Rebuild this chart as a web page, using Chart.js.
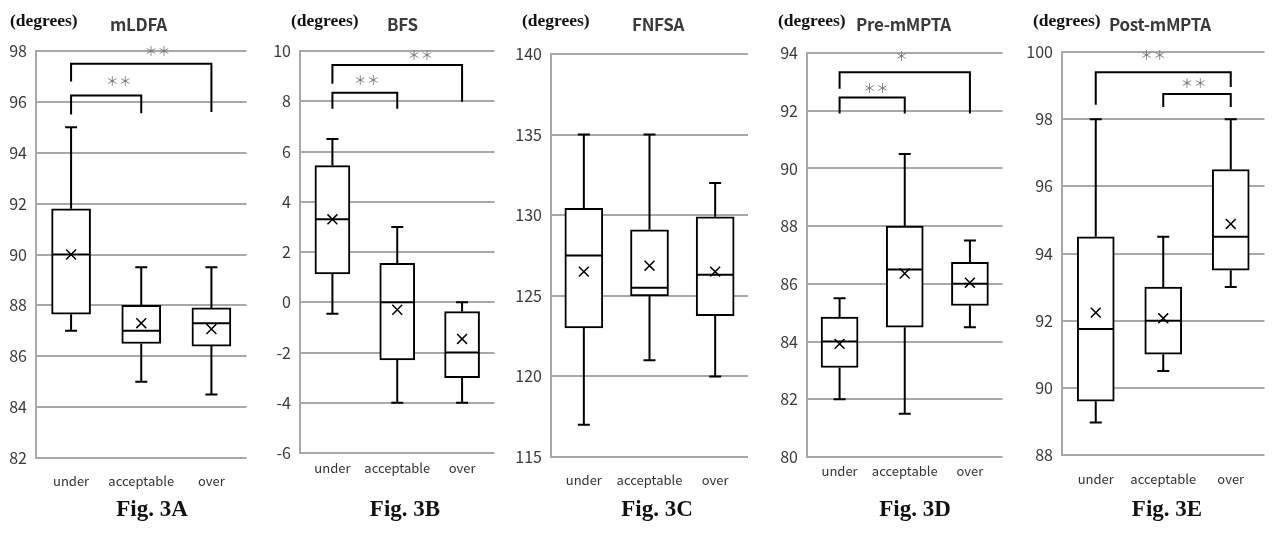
<!DOCTYPE html>
<html>
<head>
<meta charset="utf-8">
<title>Fig. 3</title>
<script src="https://cdn.jsdelivr.net/npm/chart.js@4.4.1/dist/chart.umd.min.js"></script>
<style>
  html, body { margin: 0; padding: 0; background: #fff; }
  body { width: 1278px; height: 547px; position: relative; overflow: hidden; }
  canvas { position: absolute; }
  .txt { position: absolute; white-space: nowrap; transform: translateY(-50%); }
  .deg { font: bold 17.5px "Liberation Serif", serif; color: #111; }
  .ttl { font: bold 17px "Noto Sans CJK JP", "Noto Sans", sans-serif; color: #3a3a3a; letter-spacing: -0.3px; }
  .fig { font: bold 23px "Liberation Serif", serif; color: #111; transform: translate(-50%, -50%); }
</style>
</head>
<body>
<script>
// categories shared by every panel
const categories = ['under', 'acceptable', 'over'];

// Fig. 3A mLDFA
const mldfaMin = [87, 85, 84.5];
const mldfaQ1 = [87.65, 86.5, 86.4];
const mldfaMedian = [90, 87, 87.3];
const mldfaQ3 = [91.8, 88, 87.9];
const mldfaMax = [95, 89.5, 89.5];
const mldfaMean = [90, 87.3, 87.07];
const mldfaTicks = [82, 98, 2];
// [from, to, leftLegBottom, barY, rightLegBottom, label, labelX, labelY]
const mldfaBrackets = [
    [0, 1, 95.5, 96.25, 95.55, '＊＊', 0.68, 96.8],
    [0, 2, 96.8, 97.5, 95.6, '＊＊', 1.23, 98.0]
];

// Fig. 3B BFS
const bfsMin = [-0.46, -4, -4];
const bfsQ1 = [1.13, -2.3, -3];
const bfsMedian = [3.3, 0, -2];
const bfsQ3 = [5.44, 1.55, -0.37];
const bfsMax = [6.5, 3, 0];
const bfsMean = [3.3, -0.3, -1.46];
const bfsTicks = [-6, 10, 2];
const bfsBrackets = [
    [0, 1, 7.7, 8.34, 7.7, '＊＊', 0.53, 8.85],
    [0, 2, 8.7, 9.44, 7.98, '＊＊', 1.36, 9.84]
];

// Fig. 3C FNFSA
const fnfsaMin = [117, 121, 120];
const fnfsaQ1 = [123, 125, 123.76];
const fnfsaMedian = [127.5, 125.5, 126.3];
const fnfsaQ3 = [130.43, 129.1, 129.9];
const fnfsaMax = [135, 135, 132];
const fnfsaMean = [126.5, 126.87, 126.5];
const fnfsaTicks = [115, 140, 5];
const fnfsaBrackets = [];

// Fig. 3D Pre-mMPTA
const preMin = [82, 81.5, 84.5];
const preQ1 = [83.1, 84.5, 85.25];
const preMedian = [84, 86.5, 86];
const preQ3 = [84.85, 88, 86.75];
const preMax = [85.5, 90.5, 87.5];
const preMean = [83.92, 86.36, 86.04];
const preTicks = [80, 94, 2];
const preBrackets = [
    [0, 1, 91.9, 92.46, 91.9, '＊＊', 0.56, 92.8],
    [0, 2, 92.76, 93.33, 91.9, '＊', 0.95, 93.9]
];

// Fig. 3E Post-mMPTA
const postMin = [88.97, 90.5, 93];
const postQ1 = [89.6, 91, 93.5];
const postMedian = [91.75, 92, 94.5];
const postQ3 = [94.5, 93, 96.5];
const postMax = [98, 94.5, 98];
const postMean = [92.24, 92.07, 94.88];
const postTicks = [88, 100, 2];
const postBrackets = [
    [0, 2, 98.43, 99.4, 98.96, '＊＊', 0.85, 99.92],
    [1, 2, 98.36, 98.75, 98.36, '＊＊', 1.45, 99.08]
];

const panels = [
    { fig: 'Fig. 3A', title: 'mLDFA', left: 36, right: 267, top: 51, bottom: 458, xPad: 15, degX: 10, titleX: 110, figX: 152,
      min: mldfaMin, q1: mldfaQ1, median: mldfaMedian, q3: mldfaQ3, max: mldfaMax, mean: mldfaMean, ticks: mldfaTicks, brackets: mldfaBrackets, box: 39 },
    { fig: 'Fig. 3B', title: 'BFS', left: 300, right: 513, top: 51, bottom: 453, xPad: 7, degX: 291, titleX: 387, figX: 405,
      min: bfsMin, q1: bfsQ1, median: bfsMedian, q3: bfsQ3, max: bfsMax, mean: bfsMean, ticks: bfsTicks, brackets: bfsBrackets, box: 35 },
    { fig: 'Fig. 3C', title: 'FNFSA', left: 551, right: 768, top: 54, bottom: 457, xPad: 15, degX: 522, titleX: 632, figX: 657,
      min: fnfsaMin, q1: fnfsaQ1, median: fnfsaMedian, q3: fnfsaQ3, max: fnfsaMax, mean: fnfsaMean, ticks: fnfsaTicks, brackets: fnfsaBrackets, box: 38 },
    { fig: 'Fig. 3D', title: 'Pre-mMPTA', left: 807, right: 1022, top: 53, bottom: 457, xPad: 6, degX: 778, titleX: 856, figX: 915,
      min: preMin, q1: preQ1, median: preMedian, q3: preQ3, max: preMax, mean: preMean, ticks: preTicks, brackets: preBrackets, box: 37 },
    { fig: 'Fig. 3E', title: 'Post-mMPTA', left: 1062, right: 1284, top: 52, bottom: 455, xPad: 16, degX: 1033, titleX: 1109, figX: 1167,
      min: postMin, q1: postQ1, median: postMedian, q3: postQ3, max: postMax, mean: postMean, ticks: postTicks, brackets: postBrackets, box: 37 }
];

const AXIS_W = 36;
const XAXIS_H = 40;
const CANVAS_TOP = 30;
const GRID = '#a8a8a8';

// whiskers, caps and significance brackets
const boxExtras = {
    id: 'boxExtras',
    afterDatasetsDraw(chart, args, opts) {
        const ctx = chart.ctx;
        const x = chart.scales.x;
        const y = chart.scales.y;
        ctx.save();
        ctx.strokeStyle = '#000';
        ctx.lineWidth = 2;
        ctx.lineCap = 'butt';
        for (let i = 0; i < categories.length; i++) {
            const cx = x.getPixelForValue(i);
            ctx.beginPath();
            ctx.moveTo(cx, y.getPixelForValue(opts.q3[i]));
            ctx.lineTo(cx, y.getPixelForValue(opts.max[i]));
            ctx.moveTo(cx, y.getPixelForValue(opts.q1[i]));
            ctx.lineTo(cx, y.getPixelForValue(opts.min[i]));
            ctx.moveTo(cx - 6, y.getPixelForValue(opts.max[i]));
            ctx.lineTo(cx + 6, y.getPixelForValue(opts.max[i]));
            ctx.moveTo(cx - 6, y.getPixelForValue(opts.min[i]));
            ctx.lineTo(cx + 6, y.getPixelForValue(opts.min[i]));
            ctx.stroke();
        }
        opts.brackets.forEach(b => {
            const x1 = x.getPixelForValue(b[0]);
            const x2 = x.getPixelForValue(b[1]);
            const top = y.getPixelForValue(b[3]);
            ctx.beginPath();
            ctx.moveTo(x1, y.getPixelForValue(b[2]));
            ctx.lineTo(x1, top);
            ctx.lineTo(x2, top);
            ctx.lineTo(x2, y.getPixelForValue(b[4]));
            ctx.stroke();
            ctx.fillStyle = '#777';
            ctx.font = '13px "Noto Sans CJK JP", sans-serif';
            ctx.textAlign = 'center';
            ctx.textBaseline = 'middle';
            ctx.fillText(b[5], x.getPixelForValue(b[6]), y.getPixelForValue(b[7]));
        });
        ctx.restore();
    }
};

function addText(cls, text, x, y) {
    const d = document.createElement('div');
    d.className = 'txt ' + cls;
    d.textContent = text;
    d.style.left = x + 'px';
    d.style.top = y + 'px';
    document.body.appendChild(d);
}

panels.forEach(p => {
    const canvas = document.createElement('canvas');
    canvas.width = p.right - p.left + AXIS_W;
    canvas.height = p.bottom - CANVAS_TOP + XAXIS_H;
    canvas.style.left = (p.left - AXIS_W) + 'px';
    canvas.style.top = CANVAS_TOP + 'px';
    document.body.appendChild(canvas);

    addText('deg', '(degrees)', p.degX, 20);
    addText('ttl', p.title, p.titleX, 23);
    addText('fig', p.fig, p.figX, 509);

    new Chart(canvas, {
        type: 'bar',
        data: {
            labels: categories,
            datasets: [
                {
                    type: 'line',
                    label: 'mean',
                    data: p.mean,
                    showLine: false,
                    pointStyle: 'crossRot',
                    pointRadius: 7,
                    borderColor: '#000',
                    borderWidth: 1.5,
                    order: 1
                },
                {
                    type: 'line',
                    label: 'median',
                    data: p.median,
                    showLine: false,
                    pointStyle: 'line',
                    pointRadius: p.box / 2 - 1,
                    borderColor: '#000',
                    borderWidth: 2,
                    order: 2
                },
                {
                    label: 'box',
                    data: p.q1.map((v, i) => [v, p.q3[i]]),
                    backgroundColor: '#fff',
                    borderColor: '#000',
                    borderWidth: 2,
                    borderSkipped: false,
                    barThickness: p.box,
                    order: 3
                }
            ]
        },
        options: {
            responsive: false,
            animation: false,
            devicePixelRatio: 1,
            layout: { padding: { top: p.top - CANVAS_TOP, right: 0, left: 0, bottom: 0 } },
            plugins: {
                legend: { display: false },
                tooltip: { enabled: false },
                boxExtras: { min: p.min, q1: p.q1, q3: p.q3, max: p.max, brackets: p.brackets }
            },
            scales: {
                x: {
                    grid: { display: false, drawTicks: false },
                    border: { display: false },
                    ticks: {
                        padding: p.xPad,
                        maxRotation: 0,
                        minRotation: 0,
                        autoSkip: false,
                        color: '#333',
                        font: { family: '"Noto Sans CJK JP", sans-serif', size: 13 }
                    },
                    afterFit: s => { s.height = XAXIS_H; s.paddingLeft = 0; s.paddingRight = 0; }
                },
                y: {
                    min: p.ticks[0],
                    max: p.ticks[1],
                    grid: { color: GRID, lineWidth: 2, drawTicks: false },
                    border: { color: GRID, width: 2 },
                    ticks: {
                        stepSize: p.ticks[2],
                        padding: 9,
                        color: '#3a3a3a',
                        font: { family: '"Noto Sans CJK JP", sans-serif', size: 16 }
                    },
                    afterFit: s => { s.width = AXIS_W; s.paddingTop = 0; s.paddingBottom = 0; }
                }
            }
        },
        plugins: [boxExtras]
    });
});
</script>
</body>
</html>
